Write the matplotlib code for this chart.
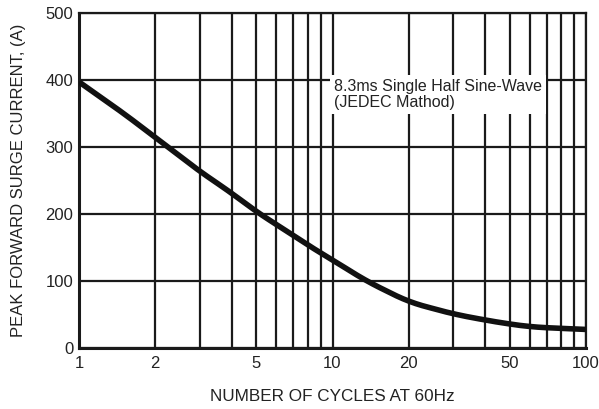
import matplotlib.pyplot as plt
import numpy as np

plt.rcParams['font.family'] = ['Liberation Sans', 'DejaVu Sans']

# curve
cycles = [1, 1.5, 2, 3, 4, 5, 6, 7, 8, 9, 10, 13.5, 20, 30, 40, 50, 60, 70, 100]
current = [397, 350, 314, 263, 231, 203, 184, 168, 153, 141, 131, 100, 68, 50, 41, 35, 31, 29.5, 27]

xticks = [1, 2, 5, 10, 20, 50, 100]
yticks = [0, 100, 200, 300, 400, 500]
vgrid = [2, 3, 4, 5, 6, 7, 8, 9, 10, 20, 30, 40, 50, 60, 70, 80, 90, 100]

fig = plt.figure(figsize=(5.99, 4.09), dpi=100)
ax = fig.add_axes([79/599, 1 - 347.5/409, 507/599, 334.5/409])

for v in vgrid:
    ax.axvline(v, color='#1a1a1a', lw=1.6, zorder=1)
for h in yticks:
    ax.axhline(h, color='#1a1a1a', lw=1.6, zorder=1)

# smooth curve through the read points (log-x)
lx = np.log10(cycles)
xs = np.linspace(lx[0], lx[-1], 400)
ys = np.interp(xs, lx, current)
n = 12
k = np.ones(2 * n + 1) / (2 * n + 1)
ys_s = np.convolve(np.pad(ys, n, mode='reflect', reflect_type='odd'), k, mode='valid')
ax.plot(10 ** xs, ys_s, color='#111111', lw=4, solid_capstyle='butt', zorder=3)

ax.set_xscale('log')
ax.set_xlim(1, 100)
ax.set_ylim(0, 500)
ax.set_xticks(xticks)
ax.set_xticklabels([str(t) for t in xticks])
ax.xaxis.set_minor_locator(plt.NullLocator())
ax.set_yticks(yticks)
ax.tick_params(length=0, labelsize=12, colors='#222222')
ax.tick_params(axis='x', pad=6)
ax.tick_params(axis='y', pad=4)

for s in ax.spines.values():
    s.set_color('#1a1a1a')
    s.set_linewidth(1.6)
ax.spines['left'].set_linewidth(2.2)
ax.spines['bottom'].set_linewidth(2.2)

ax.text(10.15, 401, '8.3ms Single Half Sine-Wave\n(JEDEC Mathod)', fontsize=11.5,
        color='#222222', ha='left', va='top', linespacing=1.05, zorder=4,
        bbox=dict(facecolor='white', edgecolor='none', pad=3))

ax.set_xlabel('NUMBER OF CYCLES AT 60Hz', fontsize=12.3, color='#222222', labelpad=13)
ax.set_ylabel('PEAK FORWARD SURGE CURRENT, (A)', fontsize=12, color='#222222', labelpad=14)

plt.savefig('out.png', dpi=100)
